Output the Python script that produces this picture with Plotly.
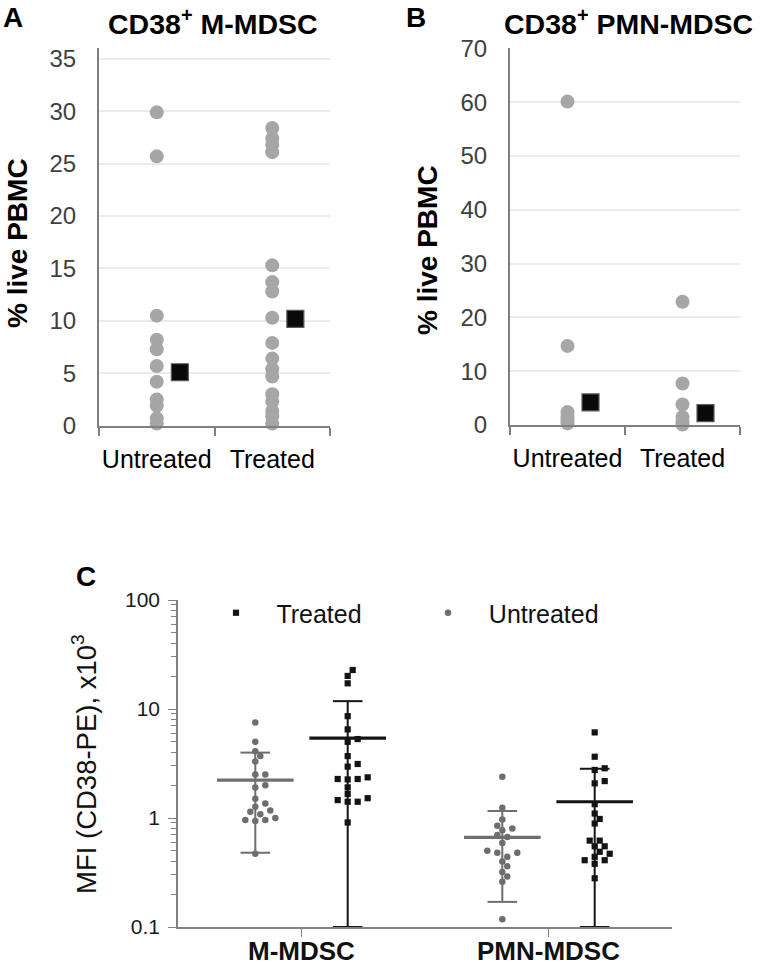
import numpy as np
import plotly.graph_objects as go

W, H = 762, 966
FONT = "Liberation Sans, Arial, Helvetica, sans-serif"

# ---------------- data ----------------
# Panel A : CD38+ M-MDSC (% live PBMC)
a_categories = ["Untreated", "Treated"]
a_untreated = [29.9, 25.7, 10.5, 8.2, 7.3, 5.7, 4.2, 2.5, 1.9, 0.7, 0.2]
a_treated = [28.4, 27.4, 26.8, 26.1, 15.3, 13.7, 12.8, 10.3, 7.9, 6.4, 5.4, 4.7,
             3.0, 2.3, 1.4, 0.9, 0.2]
a_summary = [5.1, 10.2]
a_yticks = [0, 5, 10, 15, 20, 25, 30, 35]

# Panel B : CD38+ PMN-MDSC (% live PBMC)
b_categories = ["Untreated", "Treated"]
b_untreated = [60.1, 14.7, 2.4, 1.6, 0.9, 0.3]
b_treated = [22.9, 7.7, 3.8, 1.5, 0.6, 0.1]
b_summary = [4.2, 2.2]
b_yticks = [0, 10, 20, 30, 40, 50, 60, 70]

# Panel C : MFI (CD38-PE), x10^3
c_categories = ["M-MDSC", "PMN-MDSC"]
c_m_untreated = [7.5, 5.0, 4.1, 3.7, 3.3, 2.5, 2.5, 1.9, 2.0, 1.5, 1.36, 1.27,
                 1.14, 1.17, 1.08, 1.0, 0.96, 0.94, 0.96, 0.47]
c_m_treated = [22.8, 20.1, 17.2, 8.6, 6.5, 5.0, 5.3, 3.7, 2.96, 3.13, 2.28, 2.36,
               2.26, 2.28, 1.91, 1.52, 1.41, 1.41, 1.46, 1.66, 0.91]
c_pmn_untreated = [2.39, 1.24, 0.97, 0.85, 0.80, 0.77, 0.67, 0.70, 0.59, 0.50,
                   0.48, 0.48, 0.44, 0.40, 0.36, 0.29, 0.32, 0.26, 0.118]
c_pmn_treated = [6.1, 3.65, 2.86, 2.76, 2.08, 2.18, 1.34, 1.10, 0.98, 0.89, 0.62,
                 0.62, 0.55, 0.55, 0.49, 0.47, 0.44, 0.41, 0.41, 0.38, 0.28]
c_mean_untreated = [2.23, 0.665]
c_sd_untreated = [1.75, 0.495]
c_mean_treated = [5.4, 1.41]
c_sd_treated = [6.4, 1.42]
c_yticks = [0.1, 1, 10, 100]
c_yticktext = ["0.1", "1", "10", "100"]

# ---------------- styling / geometry ----------------
GRAY_DOT = "#a6a6a6"
AX_GRAY = "#808080"
GRID = "#ebebeb"
C_UNT = "#6e6e6e"
C_TRT = "#141414"


def px_x(p):
    return p / W


def px_y(p):
    return 1 - p / H


# domains (pixel positions of plotting areas)
A_X = [99, 330]; A_Y = [425.7, 48.4]
B_X = [510, 740]; B_Y = [425.0, 48.3]
C_X = [178, 672]; C_Y = [927, 600]

fig = go.Figure()

# ---- panel A / B points ----
SQ_OFF = 0.2  # offset of the summary square (category units)
for xa, ya, unt, trt, summ in [("x", "y", a_untreated, a_treated, a_summary),
                                ("x2", "y2", b_untreated, b_treated, b_summary)]:
    for i, vals in enumerate([unt, trt]):
        fig.add_trace(go.Scatter(
            x=[i] * len(vals), y=vals, mode="markers", xaxis=xa, yaxis=ya,
            marker=dict(size=14, color=GRAY_DOT, line=dict(width=0)),
            showlegend=False, hoverinfo="y", cliponaxis=False))
    fig.add_trace(go.Scatter(
        x=[k + SQ_OFF for k in range(len(summ))], y=summ, mode="markers",
        xaxis=xa, yaxis=ya,
        marker=dict(size=17, symbol="square", color="#0a0a0a",
                    line=dict(width=1.2, color="#5a5a5a")),
        showlegend=False, hoverinfo="y", cliponaxis=False))


# ---- panel C : beeswarm ----
c_plot_h = C_Y[0] - C_Y[1]
px_per_decade = c_plot_h / 3.0
px_per_cat = (C_X[1] - C_X[0]) / 2.0
GROUP_OFF = 0.187


def swarm(values, diam=6.6, step=5.0):
    ys = [np.log10(v) * px_per_decade for v in values]
    order = sorted(range(len(values)), key=lambda k: ys[k])
    placed = []
    offs = [0.0] * len(values)
    for k in order:
        cands = [0.0]
        for n in range(1, 12):
            cands += [n * step, -n * step]
        for c in cands:
            ok = all((c - px) ** 2 + (ys[k] - py) ** 2 >= diam ** 2 for px, py in placed)
            if ok:
                offs[k] = c
                placed.append((c, ys[k]))
                break
    return [o / px_per_cat for o in offs]


groups = [
    (0, -GROUP_OFF, c_m_untreated, C_UNT, "circle", "Untreated", True),
    (0, GROUP_OFF, c_m_treated, C_TRT, "square", "Treated", True),
    (1, -GROUP_OFF, c_pmn_untreated, C_UNT, "circle", "Untreated", False),
    (1, GROUP_OFF, c_pmn_treated, C_TRT, "square", "Treated", False),
]
for cat, off, vals, col, sym, name, leg in groups:
    jit = swarm(vals)
    fig.add_trace(go.Scatter(
        x=[cat + off + j for j in jit], y=vals, mode="markers", xaxis="x3", yaxis="y3",
        marker=dict(size=6.5 if sym == "circle" else 6.2, symbol=sym, color=col,
                    line=dict(width=0)),
        name=("   " + name), showlegend=leg, legendrank=(1 if name == "Treated" else 2),
        hoverinfo="y"))

# mean +/- SD
YMIN = 10 ** -1
MEAN_HALF = 0.155
CAP_HALF = 0.06
for off, means, sds, col, lw in [(-GROUP_OFF, c_mean_untreated, c_sd_untreated, C_UNT, 2.0),
                                 (GROUP_OFF, c_mean_treated, c_sd_treated, C_TRT, 2.0)]:
    for cat, (m, s) in enumerate(zip(means, sds)):
        xc = cat + off
        lo = max(m - s, YMIN)
        hi = m + s
        fig.add_trace(go.Scatter(x=[xc, xc], y=[lo, hi], mode="lines", xaxis="x3", yaxis="y3",
                                 line=dict(color=col, width=lw), showlegend=False, hoverinfo="skip",
                                 cliponaxis=False))
        for yy in (lo, hi):
            fig.add_trace(go.Scatter(x=[xc - CAP_HALF, xc + CAP_HALF], y=[yy, yy], mode="lines",
                                     xaxis="x3", yaxis="y3", line=dict(color=col, width=lw),
                                     showlegend=False, hoverinfo="skip", cliponaxis=False))
        fig.add_trace(go.Scatter(x=[xc - MEAN_HALF, xc + MEAN_HALF], y=[m, m], mode="lines",
                                 xaxis="x3", yaxis="y3", line=dict(color=col, width=3.2),
                                 showlegend=False, hoverinfo="skip"))

# ---------------- axes ----------------
tick_font = dict(family=FONT, size=24, color="#404040")
cat_font = dict(family=FONT, size=25, color="#000000")


def cat_xaxis(xd, anchor, cats):
    return dict(domain=[px_x(xd[0]), px_x(xd[1])], anchor=anchor, range=[-0.5, 1.5],
                tickmode="array", tickvals=[0, 1], ticktext=cats, ticks="",
                showline=True, linecolor=AX_GRAY, linewidth=2, showgrid=False,
                zeroline=False, tickfont=cat_font, ticklabelstandoff=10,
                minor=dict(tickmode="array", tickvals=[-0.5, 0.5, 1.5], ticks="outside",
                           ticklen=8, tickwidth=2, tickcolor=AX_GRAY, showgrid=False))


def lin_yaxis(yd, anchor, rng, ticks):
    return dict(domain=[px_y(yd[0]), px_y(yd[1])], anchor=anchor, range=rng,
                tickmode="array", tickvals=ticks, ticks="", showline=True,
                linecolor=AX_GRAY, linewidth=2, showgrid=True, gridcolor=GRID,
                gridwidth=2, zeroline=False, tickfont=tick_font, ticklabelstandoff=16)


minor_vals = [k * 10 ** d for d in (-1, 0, 1) for k in range(2, 10)]

fig.update_layout(
    width=W, height=H, margin=dict(l=0, r=0, t=0, b=0, autoexpand=False),
    paper_bgcolor="white", plot_bgcolor="white",
    font=dict(family=FONT, color="#000000"),
    xaxis=cat_xaxis(A_X, "y", a_categories),
    yaxis=lin_yaxis(A_Y, "x", [0, 36], a_yticks),
    xaxis2=cat_xaxis(B_X, "y2", b_categories),
    yaxis2=lin_yaxis(B_Y, "x2", [0, 70], b_yticks),
    xaxis3=dict(domain=[px_x(C_X[0]), px_x(C_X[1])], anchor="y3", range=[-0.5, 1.5],
                tickmode="array", tickvals=[0, 1], ticktext=["", ""],
                ticks="outside", ticklen=8, tickwidth=1.2, tickcolor=AX_GRAY,
                showline=True, linecolor=AX_GRAY, linewidth=1.5, showgrid=False,
                zeroline=False),
    yaxis3=dict(domain=[px_y(C_Y[0]), px_y(C_Y[1])], anchor="x3", type="log",
                range=[-1, 2], tickmode="array", tickvals=c_yticks, ticktext=c_yticktext,
                ticks="outside", ticklen=8, tickwidth=1.2, tickcolor=AX_GRAY,
                showline=True, linecolor=AX_GRAY, linewidth=1.5, showgrid=False,
                zeroline=False, tickfont=dict(family=FONT, size=21, color="#1a1a1a"),
                ticklabelstandoff=4,
                minor=dict(tickmode="array", tickvals=minor_vals, ticks="outside",
                           ticklen=5, tickwidth=1, tickcolor=AX_GRAY, showgrid=False)),
    legend=dict(orientation="h", x=px_x(216), y=px_y(613), xanchor="left", yanchor="middle",
                font=dict(family=FONT, size=25, color="#111111"), bgcolor="rgba(0,0,0,0)",
                entrywidth=167, entrywidthmode="pixels", itemclick=False),
    showlegend=True,
)

ann = []


def text(x, y, s, size, bold=False, angle=0, color="#000000", xref="paper"):
    ann.append(dict(x=(px_x(x) if xref == "paper" else x), y=px_y(y), xref=xref, yref="paper",
                    text=s, showarrow=False, textangle=angle, xanchor="center",
                    yanchor="middle",
                    font=dict(family=FONT, size=size, color=color,
                              weight=("bold" if bold else "normal"))))


text(13, 17, "A", 28, bold=True)
text(416, 17, "B", 28, bold=True)
text(86, 576, "C", 28, bold=True)
text(213, 22, "CD38<sup>+</sup> M-MDSC", 28.5, bold=True)
text(628, 22, "CD38<sup>+</sup> PMN-MDSC", 28.5, bold=True)
text(18, 243, "% live PBMC", 28, bold=True, angle=-90)
text(427, 250, "% live PBMC", 28, bold=True, angle=-90)
text(84, 764, "MFI (CD38-PE), x10<sup>3</sup>", 27.5, angle=-90, color="#111111")
for i, c in enumerate(c_categories):
    text(i, 951, c, 26, bold=True, color="#111111", xref="x3")
fig.update_layout(annotations=ann)

fig.write_html("out.html", config={"displayModeBar": False},
               post_script="document.body.style.margin='0px';document.body.style.padding='0px';")
